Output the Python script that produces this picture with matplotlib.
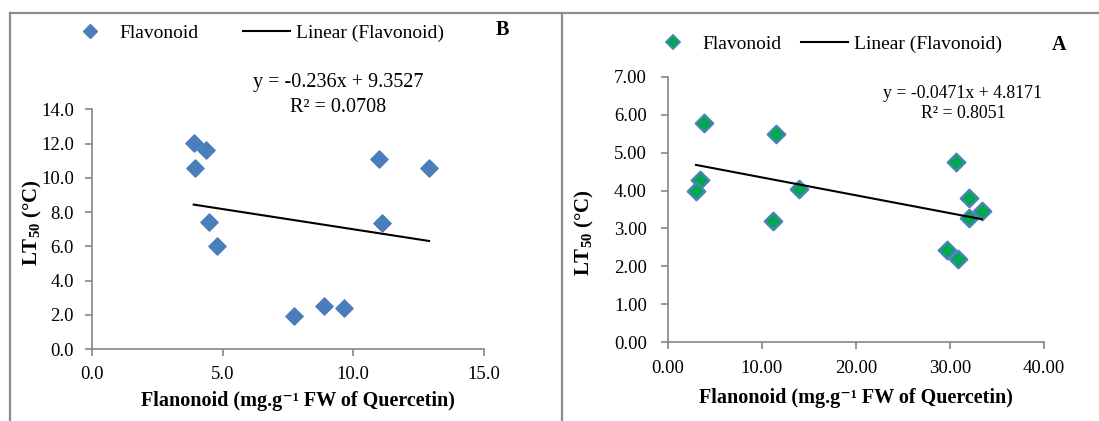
import matplotlib
matplotlib.use("Agg")
import matplotlib.pyplot as plt
from matplotlib.lines import Line2D
import numpy as np

plt.rcParams['font.family'] = ['Liberation Serif', 'DejaVu Serif']
plt.rcParams['mathtext.fontset'] = 'custom'
plt.rcParams['mathtext.rm'] = 'Liberation Serif'
plt.rcParams['mathtext.bf'] = 'Liberation Serif:bold'
plt.rcParams['mathtext.it'] = 'Liberation Serif:italic'

# ---- Panel B data ----
b_x = [3.89, 4.37, 3.93, 4.49, 4.80, 7.72, 8.88, 9.63, 10.99, 11.11, 12.90]
b_y = [12.01, 11.62, 10.55, 7.40, 6.02, 1.95, 2.53, 2.38, 11.10, 7.38, 10.55]
b_slope, b_intercept = -0.236, 9.3527
b_eq = "y = -0.236x + 9.3527"
b_r2 = "R² = 0.0708"
b_xticks = [0.0, 5.0, 10.0, 15.0]
b_yticks = [0.0, 2.0, 4.0, 6.0, 8.0, 10.0, 12.0, 14.0]

# ---- Panel A data ----
a_x = [3.86, 11.51, 3.44, 3.01, 13.96, 11.23, 30.65, 32.0, 32.0, 33.4, 29.73, 30.82]
a_y = [5.77, 5.49, 4.28, 4.00, 4.03, 3.21, 4.75, 3.81, 3.27, 3.45, 2.42, 2.20]
a_slope, a_intercept = -0.0471, 4.8171
a_eq = "y = -0.0471x + 4.8171"
a_r2 = "R² = 0.8051"
a_xticks = [0.0, 10.0, 20.0, 30.0, 40.0]
a_yticks = [0.0, 1.0, 2.0, 3.0, 4.0, 5.0, 6.0, 7.0]

series_label = "Flavonoid"
trend_label = "Linear (Flavonoid)"
xlabel = "Flanonoid (mg.g\u207b\u00b9 FW of Quercetin)"
ylabel = r"$\mathbf{LT_{50}\ (°C)}$"

W, H = 1099, 421
fig = plt.figure(figsize=(W / 100, H / 100), dpi=100)

def fx(px):
    return px / W

def fy(py):
    return 1 - py / H

# frame lines
gray_frame = '#8c8c8c'
fig.add_artist(Line2D([fx(9.5), 1.0], [fy(12.5), fy(12.5)], color=gray_frame, lw=1.6))
fig.add_artist(Line2D([fx(9.8), fx(9.8)], [0, fy(12.5)], color=gray_frame, lw=1.6))
fig.add_artist(Line2D([fx(562.3), fx(562.3)], [0, fy(12.5)], color=gray_frame, lw=1.6))

spine_c = '#868686'
blue = '#4a7ebb'
green = '#00a84f'
edge_blue = '#4f81bd'

def style_axes(ax, fs):
    for s in ['top', 'right']:
        ax.spines[s].set_visible(False)
    for s in ['left', 'bottom']:
        ax.spines[s].set_color(spine_c)
        ax.spines[s].set_linewidth(1.2)
    ax.tick_params(direction='out', length=5, width=1.2, color=spine_c,
                   labelsize=fs, labelcolor='black')

# ---------------- Panel B ----------------
axB = fig.add_axes([fx(92), fy(349), fx(484) - fx(92), fy(109.3) - fy(349)])
style_axes(axB, 13.5)
axB.scatter(b_x, b_y, marker='D', s=80, color=blue, edgecolors=blue, linewidths=0.8, zorder=3)
bx_line = np.array([min(b_x), max(b_x)])
axB.plot(bx_line, b_slope * bx_line + b_intercept, color='black', lw=1.5, zorder=2)
axB.set_xlim(0, 15)
axB.set_ylim(0, 14)
axB.set_xticks(b_xticks)
axB.set_xticklabels([f"{v:.1f}" for v in b_xticks])
axB.set_yticks(b_yticks)
axB.set_yticklabels([f"{v:.1f}" for v in b_yticks])
axB.tick_params(axis='y', pad=8)
axB.tick_params(axis='x', pad=7)
axB.set_xlabel(xlabel, fontsize=14.5, fontweight='bold', va='center')
axB.xaxis.set_label_coords(0.525, -0.218)
axB.set_ylabel(ylabel, fontsize=15, va='center', ha='center')
axB.yaxis.set_label_coords(-0.153, 0.528)
fig.text(fx(338), fy(83), b_eq, fontsize=14.5, ha='center', va='center')
fig.text(fx(338), fy(108), b_r2, fontsize=14.5, ha='center', va='center')
fig.text(fx(502), fy(30), "B", fontsize=14.5, fontweight='bold', ha='center', va='center')

hB = [Line2D([], [], marker='D', ls='none', color=blue, markeredgecolor=blue, markersize=7.5),
      Line2D([], [], color='black', lw=1.5)]
fig.legend(hB, [series_label, trend_label], ncol=2, frameon=False, loc='center left',
           bbox_to_anchor=(fx(67), fy(33)), borderpad=0, borderaxespad=0,
           handlelength=2.4, handletextpad=0.3, columnspacing=2.3, fontsize=14, numpoints=1)

# ---------------- Panel A ----------------
axA = fig.add_axes([fx(667.7), fy(342.3), fx(1044) - fx(667.7), fy(76.7) - fy(342.3)])
style_axes(axA, 13.5)
axA.scatter(a_x, a_y, marker='D', s=80, color=green, edgecolors=edge_blue, linewidths=1.6, zorder=3)
ax_line = np.array([min(a_x), max(a_x)])
axA.plot(ax_line, a_slope * ax_line + a_intercept, color='black', lw=1.5, zorder=4)
axA.set_xlim(0, 40)
axA.set_ylim(0, 7)
axA.set_xticks(a_xticks)
axA.set_xticklabels([f"{v:.2f}" for v in a_xticks])
axA.set_yticks(a_yticks)
axA.set_yticklabels([f"{v:.2f}" for v in a_yticks])
axA.tick_params(axis='y', pad=10)
axA.tick_params(axis='x', pad=8)
axA.set_xlabel(xlabel, fontsize=14.5, fontweight='bold', va='center')
axA.xaxis.set_label_coords(0.5, -0.21)
axA.set_ylabel(ylabel, fontsize=15, va='center', ha='center')
axA.yaxis.set_label_coords(-0.22, 0.413)
fig.text(fx(963), fy(93), a_eq, fontsize=12.8, ha='center', va='center')
fig.text(fx(963), fy(114), a_r2, fontsize=12.8, ha='center', va='center')
fig.text(fx(1059), fy(45), "A", fontsize=14.5, fontweight='bold', ha='center', va='center')

hA = [Line2D([], [], marker='D', ls='none', color=green, markeredgecolor=edge_blue,
             markeredgewidth=1.3, markersize=7.5),
      Line2D([], [], color='black', lw=1.5)]
fig.legend(hA, [series_label, trend_label], ncol=2, frameon=False, loc='center left',
           bbox_to_anchor=(fx(650), fy(44.5)), borderpad=0, borderaxespad=0,
           handlelength=2.4, handletextpad=0.3, columnspacing=1.0, fontsize=14, numpoints=1)

fig.savefig("out.png", dpi=100)
